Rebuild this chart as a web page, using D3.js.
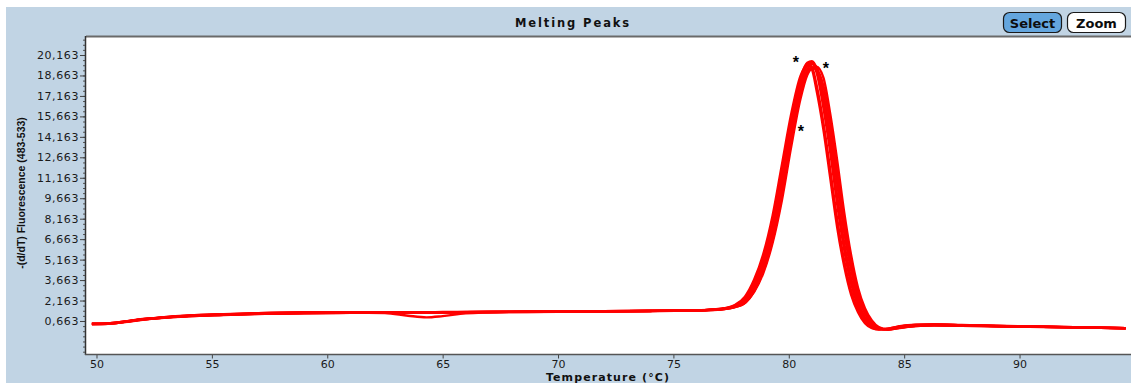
<!DOCTYPE html>
<html>
<head>
<meta charset="utf-8">
<script src="https://cdn.jsdelivr.net/npm/d3@7"></script>
<style>
  html, body { margin: 0; padding: 0; background: #ffffff; }
  svg { display: block; }
</style>
</head>
<body>
<svg id="chart" width="1131" height="383"></svg>
<script>
// Temperature grid (°C) shared by every run
const temperatures = [
  49.8, 50.5, 51.2, 52.0, 52.8, 54.0, 55.5, 57.0, 59.0, 61.0, 62.5, 63.5, 64.3, 65.0, 66.0, 68.0, 70.0, 72.0, 74.0, 75.5, 76.5, 77.2,
  77.7, 78.1, 78.5, 78.9, 79.3, 79.7, 80.1, 80.5, 80.8, 81.0, 81.2, 81.5, 81.8, 82.1, 82.4, 82.7, 83.0, 83.3, 83.6, 83.9, 84.3,
  84.8, 85.5, 86.3, 87.5, 89.0, 91.0, 93.0, 94.6
];

// -(d/dT) fluorescence of each run
const runA = [
  0.43, 0.46, 0.58, 0.75, 0.88, 1.01, 1.10, 1.18, 1.23, 1.26, 1.28, 1.28, 1.28, 1.29, 1.30, 1.32, 1.34, 1.36, 1.39, 1.42, 1.47, 1.58,
  1.84, 2.35, 3.50, 5.30, 8.00, 11.6, 15.4, 18.4, 19.5, 19.3, 18.0, 15.2, 11.7, 8.1, 5.1, 2.9, 1.5, 0.60, 0.18, 0.05, 0.10,
  0.28, 0.40, 0.42, 0.37, 0.31, 0.25, 0.19, 0.13
];
const runB = [
  0.47, 0.49, 0.63, 0.81, 0.93, 1.07, 1.17, 1.24, 1.29, 1.30, 1.31, 1.30, 1.31, 1.32, 1.33, 1.35, 1.37, 1.39, 1.41, 1.44, 1.47, 1.54,
  1.70, 2.00, 2.80, 4.20, 6.40, 9.5, 13.4, 16.9, 18.7, 19.2, 19.3, 18.5, 15.8, 12.4, 8.65, 5.5, 3.1, 1.6, 0.70, 0.22, 0.04,
  0.15, 0.30, 0.34, 0.31, 0.27, 0.22, 0.18, 0.13
];
const runC = [
  0.45, 0.47, 0.60, 0.78, 0.90, 1.04, 1.13, 1.20, 1.25, 1.28, 1.29, 1.29, 1.29, 1.30, 1.31, 1.33, 1.35, 1.37, 1.40, 1.43, 1.47, 1.56,
  1.75, 2.10, 3.10, 4.70, 7.10, 10.6, 14.6, 17.9, 19.4, 19.6, 18.9, 16.3, 13.0, 9.2, 5.9, 3.4, 1.8, 0.80, 0.25, 0.05, 0.08,
  0.22, 0.33, 0.36, 0.33, 0.29, 0.24, 0.19, 0.14
];
const runD = [
  0.45, 0.48, 0.61, 0.79, 0.91, 1.05, 1.14, 1.21, 1.26, 1.28, 1.25, 1.05, 0.93, 1.02, 1.22, 1.32, 1.35, 1.37, 1.40, 1.43, 1.46, 1.54,
  1.72, 2.00, 2.95, 4.50, 6.80, 10.1, 14.1, 17.5, 19.1, 19.5, 19.3, 17.3, 14.3, 10.7, 7.2, 4.4, 2.4, 1.2, 0.45, 0.12, 0.04,
  0.18, 0.31, 0.35, 0.33, 0.29, 0.24, 0.19, 0.14
];
const runE = [
  0.44, 0.46, 0.60, 0.77, 0.89, 1.03, 1.15, 1.24, 1.30, 1.31, 1.31, 1.30, 1.30, 1.31, 1.32, 1.34, 1.36, 1.38, 1.41, 1.44, 1.48, 1.58,
  1.78, 2.22, 3.35, 5.00, 7.50, 11.1, 15.0, 18.2, 19.6, 19.7, 19.2, 16.8, 13.6, 9.8, 6.4, 3.8, 2.05, 0.95, 0.33, 0.08, 0.06,
  0.25, 0.37, 0.40, 0.36, 0.30, 0.24, 0.18, 0.13
];
const runF = [
  0.46, 0.48, 0.62, 0.80, 0.92, 1.05, 1.12, 1.19, 1.24, 1.27, 1.28, 1.28, 1.29, 1.30, 1.31, 1.33, 1.35, 1.37, 1.40, 1.43, 1.46, 1.53,
  1.70, 1.98, 2.85, 4.35, 6.60, 9.8, 13.8, 17.2, 18.9, 19.2, 19.1, 17.9, 15.1, 11.5, 7.9, 4.9, 2.7, 1.4, 0.55, 0.15, 0.04,
  0.16, 0.30, 0.34, 0.32, 0.28, 0.23, 0.18, 0.13
];
const runG = [
  0.44, 0.47, 0.59, 0.76, 0.89, 1.02, 1.11, 1.19, 1.24, 1.27, 1.29, 1.28, 1.28, 1.29, 1.31, 1.33, 1.35, 1.37, 1.40, 1.43, 1.48, 1.60,
  1.88, 2.45, 3.70, 5.60, 8.40, 12.1, 15.8, 18.6, 19.4, 19.1, 17.6, 14.7, 11.1, 7.5, 4.7, 2.6, 1.3, 0.50, 0.14, 0.05, 0.10,
  0.27, 0.38, 0.41, 0.36, 0.30, 0.24, 0.19, 0.14
];
const runs = [runA, runB, runC, runD, runE, runF, runG];

// Axis ticks
const xTickValues = [50, 55, 60, 65, 70, 75, 80, 85, 90];
const yTickValues = [0.663, 2.163, 3.663, 5.163, 6.663, 8.163, 9.663, 11.163, 12.663, 14.163, 15.663, 17.163, 18.663, 20.163];

// Peak call markers (temperature, value)
const peakMarkT = [80.31, 81.61, 80.52];
const peakMarkV = [19.72, 19.28, 14.66];

const svg = d3.select("#chart");
const W = 1131, H = 383;
const plot = { left: 86, top: 37, right: 1131, bottom: 354.5 };

// Panel background
svg.append("rect").attr("x", 0).attr("y", 0).attr("width", W).attr("height", H).attr("fill", "#ffffff");
svg.append("rect").attr("x", 6).attr("y", 7).attr("width", W - 6).attr("height", H - 7).attr("fill", "#c1d4e4");

// Title
svg.append("text")
  .attr("x", 573).attr("y", 27)
  .attr("text-anchor", "middle")
  .attr("font-family", "DejaVu Sans, sans-serif")
  .attr("font-weight", "bold")
  .attr("font-size", 11.5)
  .attr("letter-spacing", 1.9)
  .attr("fill", "#111")
  .text("Melting Peaks");

// Buttons
const buttons = [
  { label: "Select", x: 1003, fill: "#64a6de" },
  { label: "Zoom", x: 1067, fill: "#ffffff" }
];
const btn = svg.selectAll("g.btn").data(buttons).enter().append("g").attr("class", "btn");
btn.append("rect")
  .attr("x", d => d.x + 0.5).attr("y", 12.5)
  .attr("width", 58).attr("height", 20)
  .attr("rx", 6).attr("ry", 6)
  .attr("fill", d => d.fill)
  .attr("stroke", "#1a1a1a").attr("stroke-width", 1.2);
btn.append("text")
  .attr("x", d => d.x + 29.5).attr("y", 27.5)
  .attr("text-anchor", "middle")
  .attr("font-family", "DejaVu Sans, sans-serif")
  .attr("font-weight", "bold")
  .attr("font-size", 13)
  .attr("fill", "#0d0d0d")
  .text(d => d.label);

// Scales
const x = d3.scaleLinear().domain([49.545, 94.83]).range([plot.left, plot.right]);
const y = d3.scaleLinear().domain([-1.793, 21.483]).range([plot.bottom, plot.top]);

// Plot area
svg.append("rect")
  .attr("x", plot.left).attr("y", plot.top)
  .attr("width", plot.right - plot.left + 2).attr("height", plot.bottom - plot.top)
  .attr("fill", "#ffffff");

svg.append("defs").append("clipPath").attr("id", "plotClip")
  .append("rect")
  .attr("x", plot.left + 1).attr("y", plot.top + 1)
  .attr("width", plot.right - plot.left).attr("height", plot.bottom - plot.top - 2);

// Curves
const line = d3.line()
  .x((d, i) => x(temperatures[i]))
  .y(d => y(d))
  .curve(d3.curveMonotoneX);

svg.append("g").attr("clip-path", "url(#plotClip)")
  .selectAll("path").data(runs).enter().append("path")
  .attr("d", line)
  .attr("fill", "none")
  .attr("stroke", "#ff0000")
  .attr("stroke-width", 2.4)
  .attr("stroke-linejoin", "round");

// Peak markers
svg.append("g").selectAll("text").data(peakMarkT).enter().append("text")
  .attr("x", (d, i) => x(d))
  .attr("y", (d, i) => y(peakMarkV[i]) + 7)
  .attr("text-anchor", "middle")
  .attr("font-family", "Liberation Sans, sans-serif")
  .attr("font-weight", "bold")
  .attr("font-size", 16)
  .attr("fill", "#000")
  .text("*");

// Y axis
const fmt = v => v.toFixed(3).replace(".", ",");
const yMinor = d3.range(-1.587, 21.4, 0.375);
const yAxisG = svg.append("g").attr("transform", `translate(${plot.left},0)`);
yAxisG.call(d3.axisLeft(y).tickValues(yMinor).tickSize(3).tickFormat(""))
  .call(g => g.select(".domain").remove())
  .call(g => g.selectAll("line").attr("stroke", "#555"));
const yAxisMajor = svg.append("g").attr("transform", `translate(${plot.left},0)`);
yAxisMajor.call(d3.axisLeft(y).tickValues(yTickValues).tickSize(6).tickPadding(1).tickFormat(fmt))
  .call(g => g.select(".domain").remove())
  .call(g => g.selectAll("line").attr("stroke", "#444"))
  .call(g => g.selectAll("text")
    .attr("font-family", "DejaVu Sans, sans-serif")
    .attr("font-size", 11)
    .attr("letter-spacing", 0.6)
    .attr("fill", "#1a1a1a"));

// X axis
const xAxisG = svg.append("g").attr("transform", `translate(0,${plot.bottom})`);
xAxisG.call(d3.axisBottom(x).tickValues(xTickValues).tickSize(4).tickPadding(2))
  .call(g => g.select(".domain").remove())
  .call(g => g.selectAll("line").attr("stroke", "#444"))
  .call(g => g.selectAll("text")
    .attr("font-family", "DejaVu Sans, sans-serif")
    .attr("font-size", 11)
    .attr("fill", "#1a1a1a"));

// Plot frame
svg.append("line").attr("x1", plot.left).attr("x2", W).attr("y1", plot.top - 0.5).attr("y2", plot.top - 0.5)
  .attr("stroke", "#6a6a6a").attr("stroke-width", 2);
svg.append("line").attr("x1", plot.left - 0.5).attr("x2", plot.left - 0.5).attr("y1", plot.top - 1).attr("y2", plot.bottom + 0.5)
  .attr("stroke", "#333").attr("stroke-width", 1.5);
svg.append("line").attr("x1", plot.left - 1).attr("x2", W).attr("y1", plot.bottom).attr("y2", plot.bottom)
  .attr("stroke", "#555").attr("stroke-width", 1.5);

// Axis titles
svg.append("text")
  .attr("transform", `translate(25,${193}) rotate(-90)`)
  .attr("text-anchor", "middle")
  .attr("font-family", "Liberation Sans Narrow, Liberation Sans, sans-serif")
  .attr("font-weight", "bold")
  .attr("font-size", 10.5)
  .attr("fill", "#111")
  .text("-(d/dT) Fluorescence (483-533)");

svg.append("text")
  .attr("x", 608).attr("y", 381)
  .attr("text-anchor", "middle")
  .attr("font-family", "DejaVu Sans, sans-serif")
  .attr("font-weight", "bold")
  .attr("font-size", 11)
  .attr("letter-spacing", 1.1)
  .attr("fill", "#111")
  .text("Temperature (°C)");
</script>
</body>
</html>
